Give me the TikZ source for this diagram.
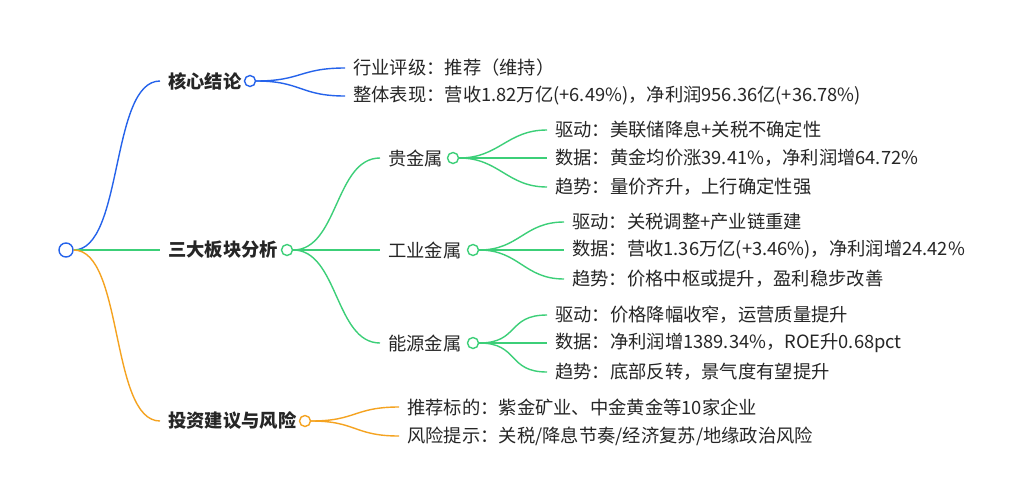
\documentclass[tikz,border=0pt]{standalone}
\usepackage{fontspec}
\setmainfont{Noto Sans CJK SC}
\definecolor{cb}{HTML}{2563EB}
\definecolor{cg}{HTML}{3CCF78}
\definecolor{co}{HTML}{F5A320}
\begin{document}
\begin{tikzpicture}[x=1pt,y=-1pt,
  t/.style={anchor=west,inner sep=0pt,font=\fontsize{18.3}{21}\selectfont,text=black!85},
  tb/.style={t,font=\fontsize{18.3}{21}\selectfont\bfseries},
  dot/.style={circle,draw=#1,fill=white,line width=1.4pt,minimum size=11pt,inner sep=0pt},
  ln/.style={draw=#1,line width=1.4pt}]
\useasboundingbox[fill=white] (0,0) rectangle (1024,501);
\node[dot=cb,minimum size=14pt] (root) at (66,250) {};
% level 1
\node[tb] (a) at (168,81) {核心结论};
\node[dot=cb] (ac) at (250,81) {};
\node[tb] (b) at (168,250) {三大板块分析};
\node[dot=cg] (bc) at (287,250) {};
\node[tb] (c) at (168,421) {投资建议与风险};
\node[dot=co] (cc) at (305,421) {};
\draw[ln=cb] (root.east) .. controls +(50,0) and +(-50,0) .. ([xshift=-8pt]a.west);
\draw[ln=cg] (root.east) -- ([xshift=-8pt]b.west);
\draw[ln=co] (root.east) .. controls +(50,0) and +(-50,0) .. ([xshift=-8pt]c.west);
% branch a
\node[t] (a1) at (353,68) {行业评级：推荐（维持）};
\node[t] (a2) at (353,96) {整体表现：营收1.82万亿(+6.49\%)，净利润956.36亿(+36.78\%)};
\foreach \n in {a1,a2}
  \draw[ln=cb] (ac.east) .. controls +(45,0) and +(-45,0) .. ([xshift=-8pt]\n.west);
% branch b
\node[t] (b1) at (388,158) {贵金属};
\node[dot=cg] (b1c) at (453,158) {};
\node[t] (b2) at (388,250) {工业金属};
\node[dot=cg] (b2c) at (473,250) {};
\node[t] (b3) at (388,343) {能源金属};
\node[dot=cg] (b3c) at (473,343) {};
\foreach \n in {b1,b2,b3}
  \draw[ln=cg] (bc.east) .. controls +(45,0) and +(-45,0) .. ([xshift=-8pt]\n.west);
\node[t] (b11) at (555,130) {驱动：美联储降息+关税不确定性};
\node[t] (b12) at (555,158) {数据：黄金均价涨39.41\%，净利润增64.72\%};
\node[t] (b13) at (555,187) {趋势：量价齐升，上行确定性强};
\foreach \n in {b11,b12,b13}
  \draw[ln=cg] (b1c.east) .. controls +(40,0) and +(-40,0) .. ([xshift=-8pt]\n.west);
\node[t] (b21) at (572,222) {驱动：关税调整+产业链重建};
\node[t] (b22) at (572,250) {数据：营收1.36万亿(+3.46\%)，净利润增24.42\%};
\node[t] (b23) at (572,279) {趋势：价格中枢或提升，盈利稳步改善};
\foreach \n in {b21,b22,b23}
  \draw[ln=cg] (b2c.east) .. controls +(40,0) and +(-40,0) .. ([xshift=-8pt]\n.west);
\node[t] (b31) at (555,315) {驱动：价格降幅收窄，运营质量提升};
\node[t] (b32) at (555,343) {数据：净利润增1389.34\%，ROE升0.68pct};
\node[t] (b33) at (555,372) {趋势：底部反转，景气度有望提升};
\foreach \n in {b31,b32,b33}
  \draw[ln=cg] (b3c.east) .. controls +(40,0) and +(-40,0) .. ([xshift=-8pt]\n.west);
% branch c
\node[t] (c1) at (407,407) {推荐标的：紫金矿业、中金黄金等10家企业};
\node[t] (c2) at (407,436) {风险提示：关税/降息节奏/经济复苏/地缘政治风险};
\foreach \n in {c1,c2}
  \draw[ln=co] (cc.east) .. controls +(45,0) and +(-45,0) .. ([xshift=-8pt]\n.west);
\end{tikzpicture}
\end{document}
